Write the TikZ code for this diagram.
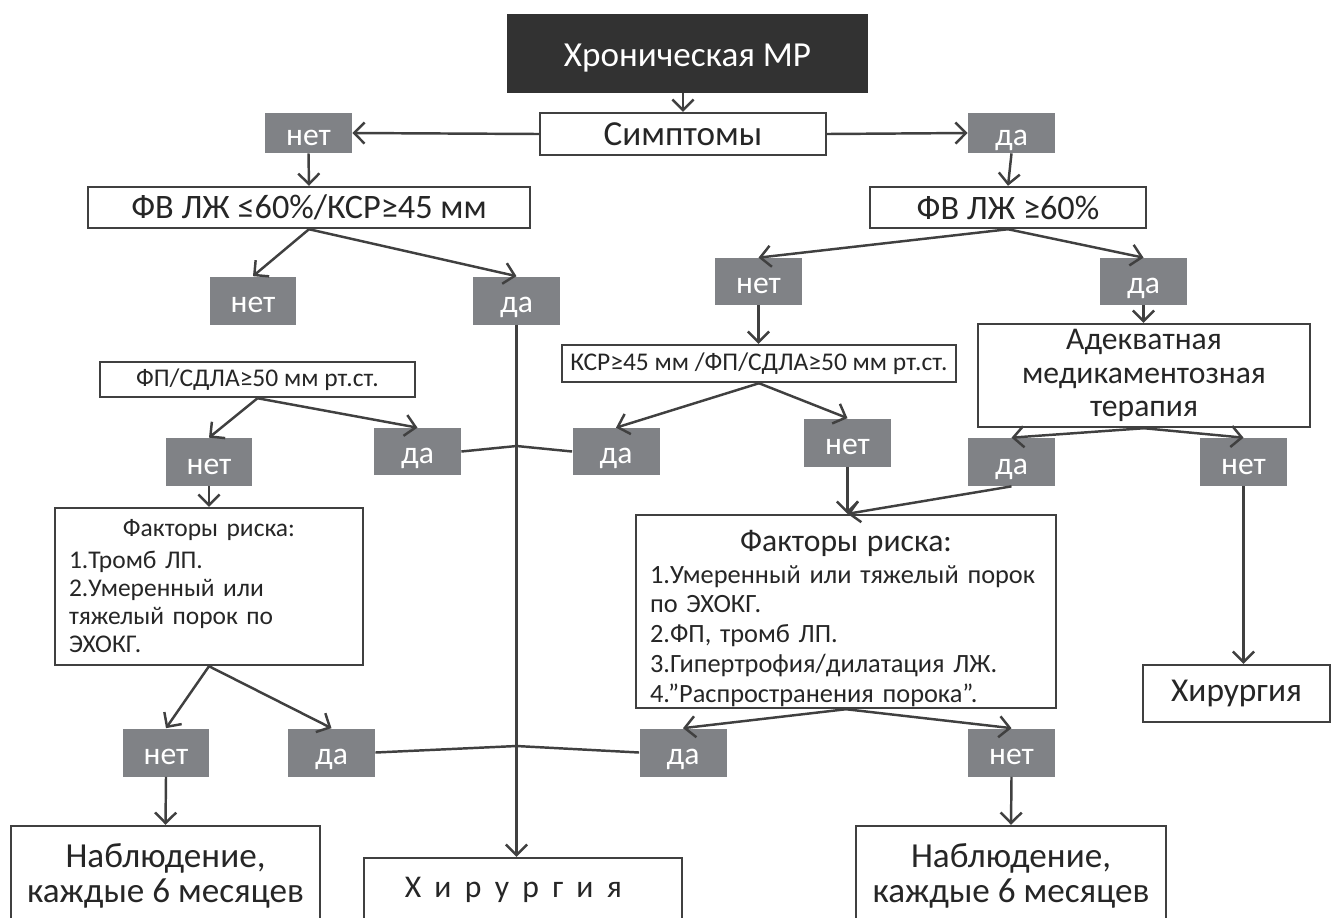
\documentclass[tikz,border=0pt]{standalone}
\usepackage{fontspec}
\setmainfont{Carlito}
\usetikzlibrary{arrows.meta}
\definecolor{boxgray}{RGB}{128,130,134}
\definecolor{linegray}{RGB}{64,64,64}
\definecolor{textgray}{RGB}{38,38,38}
\definecolor{headfill}{RGB}{50,50,50}

\begin{document}
\begin{tikzpicture}[x=0.02cm, y=-0.02cm,
            box/.style={draw=linegray, line width=1.4pt, fill=white, text=textgray,
                align=center, inner sep=0pt},
            yn/.style={fill=boxgray, text=white, minimum width=1.74cm, inner sep=0pt,
                minimum height=0.96cm, text height=18pt, text depth=4pt,
                font=\fontsize{18}{20}\selectfont},
            arr/.style={draw=linegray, line width=1.4pt,
                -{Straight Barb[length=6pt,width=12pt]}},
            link/.style={draw=linegray, line width=1.4pt}]
            \fill[white] (0,0) rectangle (1334,917);
            \useasboundingbox (0,0) rectangle (1334,917);

            % top
            \node[fill=headfill, text=white, minimum width=7.22cm, minimum height=1.58cm,
                text height=18.5pt, text depth=4.2pt, font=\fontsize{20}{24}\selectfont] (mr) at (687.5,53.5) {Хроническая МР};
            \node[box, minimum width=5.72cm, minimum height=0.84cm,
                font=\fontsize{20}{24}\selectfont] (symp) at (683,134) {Симптомы};
            \node[yn, minimum height=0.8cm] (n1) at (308.5,133) {нет};
            \node[yn, minimum height=0.8cm] (y1) at (1011.5,133) {да};

            \node[box, minimum width=8.84cm, minimum height=0.82cm,
                font=\fontsize{19.5}{22}\selectfont] (efl) at (309,207.5) {ФВ ЛЖ ≤60\%/КСР≥45 мм};
            \node[box, minimum width=5.52cm, minimum height=0.82cm,
                font=\fontsize{19.5}{22}\selectfont] (efr) at (1008,207.5) {ФВ ЛЖ ≥60\%};

            \node[yn] (n2l) at (253,300.5) {нет};
            \node[yn] (y2l) at (516.5,300.5) {да};
            \node[yn, minimum height=0.94cm] (n2r) at (758.5,281.5) {нет};
            \node[yn, minimum height=0.94cm] (y2r) at (1143.5,281.5) {да};

            \node[box, minimum width=6.3cm, minimum height=0.7cm,
                font=\fontsize{14.5}{16}\selectfont] (fpl) at (257.5,379.5) {ФП/СДЛА≥50 мм рт.ст.};
            \node[box, minimum width=7.88cm, minimum height=0.74cm,
                font=\fontsize{14.5}{16}\selectfont] (ksr) at (759,363.5) {КСР≥45 мм /ФП/СДЛА≥50 мм рт.ст.};
            \node[box, minimum width=6.64cm, minimum height=2.06cm,
                font=\fontsize{18}{19}\selectfont] (adeq) at (1144,375.5)
                {Адекватная\\медикаментозная\\терапия};

            \node[yn] (n3l) at (209,462) {нет};
            \node[yn, minimum height=0.94cm] (y3l) at (417.5,451.5) {да};
            \node[yn, minimum height=0.94cm] (y3m) at (616,451.5) {да};
            \node[yn] (n3m) at (847.5,442.5) {нет};
            \node[yn] (y3r) at (1011.5,462) {да};
            \node[yn] (n3r) at (1243.5,462) {нет};

            % risk factors
            \node[box, minimum width=6.16cm, minimum height=3.14cm, text width=5.6cm,
                align=left, inner xsep=8pt, font=\fontsize{14.5}{16}\selectfont] (rkl) at (209,586.5)
                {{\centering Факторы риска:\par}\vspace{2pt}1.Тромб ЛП.\\2.Умеренный или\\тяжелый порок по\\ЭХОКГ.};
            \node[box, minimum width=8.4cm, minimum height=3.86cm, text width=7.84cm, text height=20pt,
                align=left, inner xsep=8pt, font=\fontsize{15}{17}\selectfont] (rkr) at (846,611.5)
                {{\fontsize{18}{20}\selectfont\centering Факторы риска:\par}\vspace{1pt}1.Умеренный или тяжелый порок\\по ЭХОКГ.\\2.ФП, тромб ЛП.\\3.Гипертрофия/дилатация ЛЖ.\\4.”Распространения порока”.};
            \node[box, minimum width=3.74cm, minimum height=1.14cm,
                font=\fontsize{19}{20}\selectfont] (surgr) at (1236.5,693.5) {Хирургия};

            \node[yn] (n4l) at (166,752.5) {нет};
            \node[yn] (y4l) at (331.5,752.5) {да};
            \node[yn] (y4m) at (683,752.5) {да};
            \node[yn] (n4r) at (1011.5,752.5) {нет};

            % bottom row
            \node[box, minimum width=6.18cm, minimum height=2cm,
                font=\fontsize{20}{20}\selectfont] (obsl) at (165.5,876) {Наблюдение,\\каждые 6 месяцев};
            \node[box, minimum width=6.36cm, minimum height=1.28cm,
                font=\fontsize{18}{20}\selectfont] (surgm) at (523,890)
                {\spaceskip=0.42em Х и р у р г и я\hspace*{11pt}};
            \node[box, minimum width=6.2cm, minimum height=2cm,
                font=\fontsize{20}{20}\selectfont] (obsr) at (1011,876) {Наблюдение,\\каждые 6 месяцев};

            \coordinate (j1) at (516.5,446);
            \coordinate (j2) at (516.5,746);
            \coordinate (rin) at (n3m.south |- rkr.north);

            \draw[arr] (symp.north |- mr.south) -- (symp.north);
            \draw[arr] (symp.west) -- (n1.east);
            \draw[arr] (symp.east) -- (y1.west);
            \draw[arr] (n1.south) -- (efl.north);
            \draw[arr] (y1.south) -- (efr.north);
            \draw[arr] (efl.south) -- (n2l.north);
            \draw[arr] (efl.south) -- (y2l.north);
            \draw[arr] (efr.south) -- (n2r.north);
            \draw[arr] (efr.south) -- (y2r.north);
            \draw[arr] (y2l.south) -- (y2l.south |- surgm.north);
            \draw[arr] (n2r.south) -- (ksr.north -| n2r.south);
            \draw[arr] (y2r.south) -- (adeq.north -| y2r.south);
            \draw[arr] (fpl.south) -- (n3l.north);
            \draw[arr] (fpl.south) -- (y3l.north);
            \draw[arr] (ksr.south) -- (y3m.north);
            \draw[arr] (ksr.south) -- (n3m.north);
            \draw[arr] (adeq.south) -- (y3r.north);
            \draw[arr] (adeq.south) -- (n3r.north);
            \draw[link] (y3l.east) -- (j1) -- (y3m.west);
            \draw[arr] (n3l.south) -- (rkl.north);
            \draw[arr] (n3m.south) -- (rin);
            \draw[arr] (y3r.south) -- (rin);
            \draw[arr] (n3r.south) -- (n3r.south |- surgr.north);
            \draw[arr] (rkl.south) -- (n4l.north);
            \draw[arr] (rkl.south) -- (y4l.north);
            \draw[link] (y4l.east) -- (j2) -- (y4m.west);
            \draw[arr] (rkr.south) -- (y4m.north);
            \draw[arr] (rkr.south) -- (n4r.north);
            \draw[arr] (n4l.south) -- (obsl.north);
            \draw[arr] (n4r.south) -- (obsr.north);
        \end{tikzpicture}
\end{document}
